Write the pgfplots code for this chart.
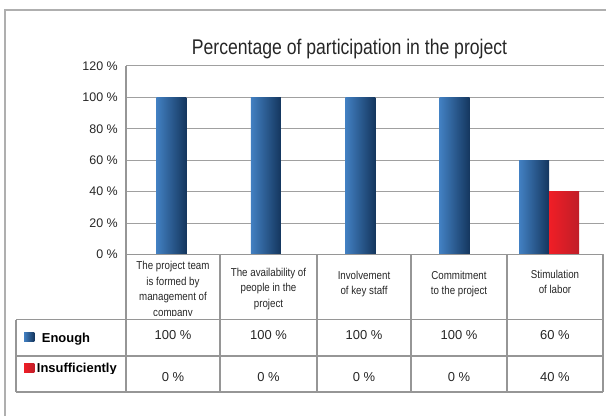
\documentclass[border=0pt]{standalone}
\usepackage{fontspec}
\setmainfont{Liberation Sans}
\newfontfamily\narrow{Liberation Sans}[FakeStretch=0.85]
\newfontfamily\titlefont{Liberation Sans}[FakeStretch=0.83]
\usepackage{pgfplots}
\pgfplotsset{compat=1.18}
\definecolor{blueL}{RGB}{66,128,194}
\definecolor{blueD}{RGB}{20,54,94}
\definecolor{redL}{RGB}{240,30,38}
\definecolor{redD}{RGB}{192,30,40}
\definecolor{tline}{RGB}{150,150,150}
\definecolor{gridc}{RGB}{160,160,160}
\newcommand\catline[3]{\node[anchor=base,inner sep=0pt,font=\narrow\fontsize{11.5}{14}\selectfont,text=black!85] at (#1,#2) {#3};}
\newcommand\val[3]{\node[anchor=base,inner sep=0pt,font=\fontsize{13}{15}\selectfont,text=black!85] at (#1,#2) {#3};}
\pgfplotsset{
  enoughbar/.style={ybar, bar width=30bp, draw=none, left color=blueL, right color=blueD},
  insuffbar/.style={ybar, bar width=30bp, draw=none, left color=redL, right color=redD},
}
\begin{document}
\begin{tikzpicture}[x=1bp,y=1bp]
\useasboundingbox (0,0) rectangle (606,416);
\begin{axis}[
  at={(126bp,161.5bp)}, anchor=south west, scale only axis,
  width=477bp, height=188.5bp,
  xmin=-0.48, xmax=4.57, ymin=0, ymax=120,
  axis line style={draw=none},
  xtick=\empty,
  ytick={0,20,40,60,80,100,120},
  yticklabels={0 \%,20 \%,40 \%,60 \%,80 \%,100 \%,120 \%},
  major tick length=0pt,
  yticklabel style={font=\fontsize{12.5}{14}\selectfont, inner sep=0pt, xshift=-8bp, text=black!85},
  ymajorgrids,
  grid style={gridc, line width=1bp, dash pattern=on 0.5bp off 0.5bp},
  clip=false,
]
% Enough
\addplot[enoughbar, bar shift=0bp] coordinates {(0,100)};
\addplot[enoughbar, bar shift=0bp] coordinates {(1,100)};
\addplot[enoughbar, bar shift=0bp] coordinates {(2,100)};
\addplot[enoughbar, bar shift=0bp] coordinates {(3,100)};
\addplot[enoughbar, bar shift=-15bp] coordinates {(4,60)};
% Insufficiently (0 % for the first four categories)
\addplot[insuffbar, bar shift=15bp] coordinates {(4,40)};
\end{axis}
% outer frame
\draw[color={rgb,255:red,175;green,175;blue,175}, line width=1.5bp] (5,0) -- (5,406) -- (606,406);
% title
\node[anchor=base, inner sep=0pt, font=\titlefont\fontsize{21.3}{24}\selectfont, text=black!85] at (349.5,362) {Percentage of participation in the project};
% axis and table lines
\begin{scope}[tline, line width=1.6bp]
\draw (126,350) -- (126,24);
\draw (126,161.5) -- (603,161.5);
\draw (16,96.5) -- (603,96.5);
\draw (16,60) -- (603,60);
\draw (16,24) -- (603,24);
\draw (16,96.5) -- (16,24);
\foreach \xx in {220,317,411,507,603} {\draw (\xx,161.5) -- (\xx,24);}
\end{scope}
% category labels
\begin{scope}
\clip (127,160.5) rectangle (219,100.5);
\catline{173}{146.7}{The project team}
\catline{173}{131}{is formed by}
\catline{173}{115.3}{management of}
\catline{173}{99.6}{company}
\end{scope}
\catline{268.5}{140}{The availability of}
\catline{268.5}{124.3}{people in the}
\catline{268.5}{108.6}{project}
\catline{364}{137}{Involvement}
\catline{364}{121.5}{of key staff}
\catline{459}{137}{Commitment}
\catline{459}{121.5}{to the project}
\catline{555}{137.5}{Stimulation}
\catline{555}{122.5}{of labor}
% legend cells
\shade[left color=blueL, right color=blueD] (24,74.3) rectangle (34.3,83.3);
\shade[left color=redL, right color=redD] (24,43.3) rectangle (34.3,52.7);
\node[anchor=base west, inner sep=0pt, font=\bfseries\fontsize{13}{15}\selectfont] at (41.7,74) {Enough};
\begin{scope}
\clip (30,42.7) rectangle (125,60);
\node[anchor=base west, inner sep=0pt, font=\bfseries\fontsize{13}{15}\selectfont] at (36.7,43.4) {Insufficiently};
\end{scope}
% values
\val{173}{76.5}{100 \%}
\val{268.5}{76.5}{100 \%}
\val{364}{76.5}{100 \%}
\val{459}{76.5}{100 \%}
\val{555}{76.5}{60 \%}
\val{173}{35}{0 \%}
\val{268.5}{35}{0 \%}
\val{364}{35}{0 \%}
\val{459}{35}{0 \%}
\val{555}{35}{40 \%}
\end{tikzpicture}
\end{document}
